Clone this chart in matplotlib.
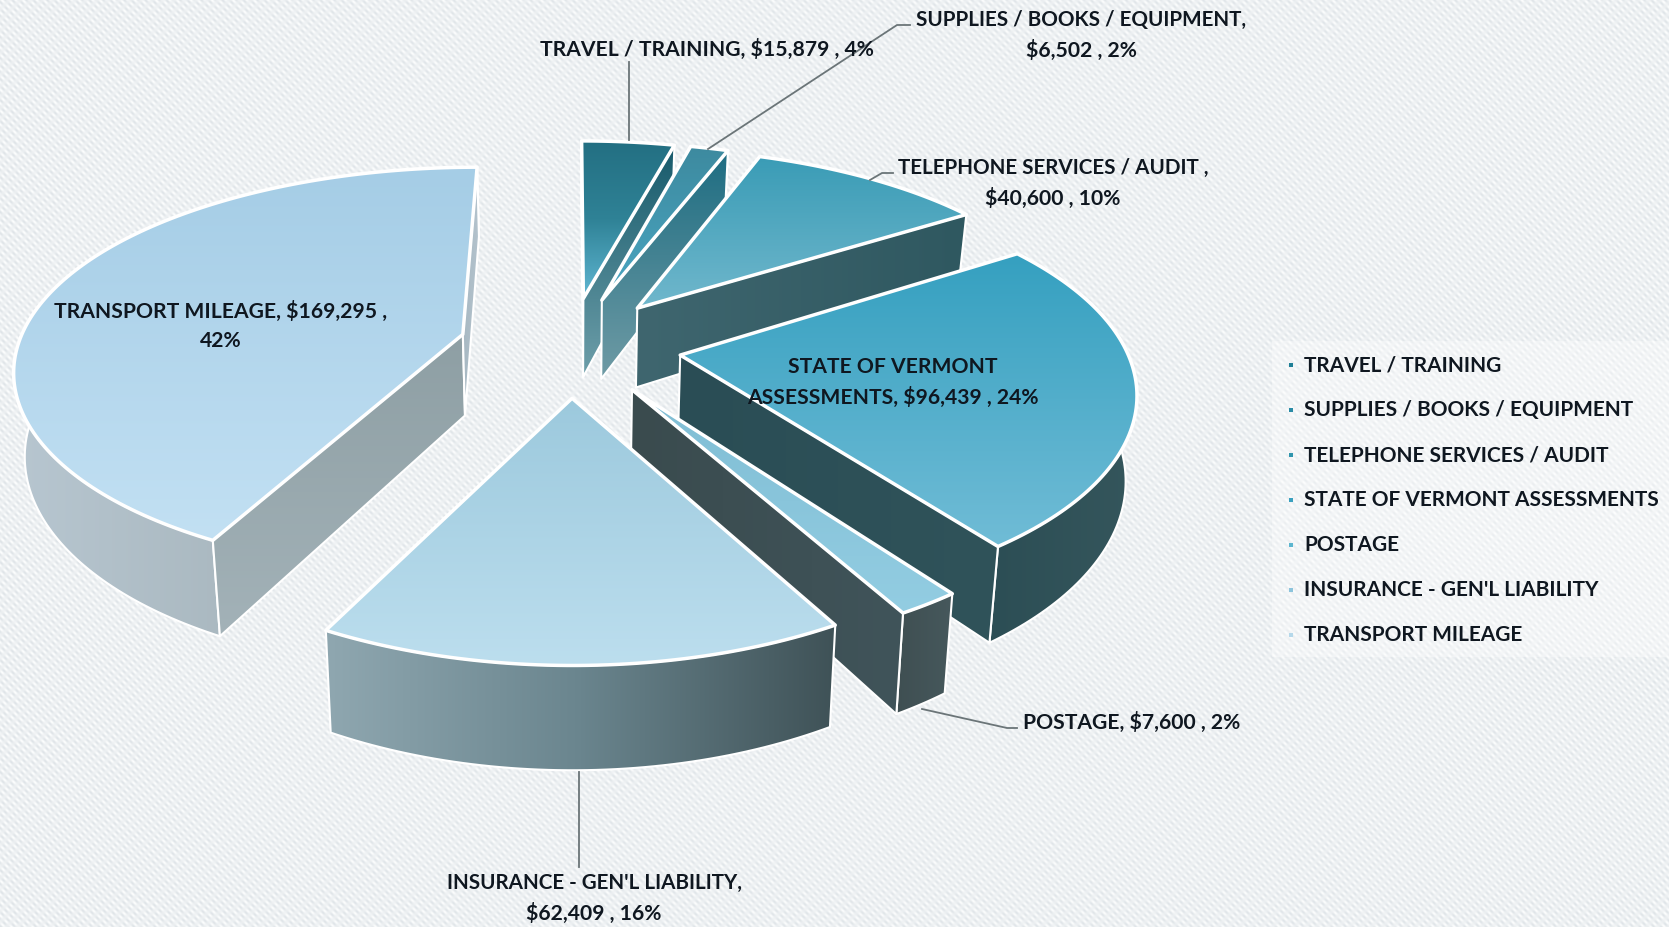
import numpy as np
import matplotlib
matplotlib.use("Agg")
import matplotlib.pyplot as plt
from matplotlib.patches import Polygon, Rectangle
from matplotlib.colors import LinearSegmentedColormap

# ---- data ----
categories = ["TRAVEL / TRAINING", "SUPPLIES / BOOKS / EQUIPMENT", "TELEPHONE SERVICES / AUDIT",
              "STATE OF VERMONT ASSESSMENTS", "POSTAGE", "INSURANCE - GEN'L LIABILITY", "TRANSPORT MILEAGE"]
values = [15879, 6502, 40600, 96439, 7600, 62409, 169295]
percents = [4, 2, 10, 24, 2, 16, 42]

# ---- styles ----
top_cols = [["#236f82", "#2f8296", "#5fb6d2"], ["#3d8a9f", "#4aa6c2"], ["#3a9cb6", "#70b7cc"],
            ["#35a0c0", "#70bcd6"], ["#7fbdd4", "#93cde2"], ["#9cc9dd", "#bcdeee"], ["#a5cde6", "#c2e0f3"]]
wall_a0 = [["#1f6070", "#1f6070"], ["#2a7488", "#2a7488"], ["#3a6068", "#3a6068"], ["#2e5058", "#2e5058"],
           ["#3c4f52", "#3c4f52"], ["#6d8f99", "#6d8f99"], ["#8e9fa4", "#a3b2b8"]]
wall_a1 = [["#175a6b", "#6e9faa"], ["#1e6d82", "#6f9ba5"], ["#3f666f", "#2f5860"], ["#2a4d55", "#30535a"],
           ["#3a4b4e", "#40545a"], ["#6d8f99", "#6d8f99"], ["#a7b8c2", "#b5c4ce"]]
wall_arc = [["#1f6070", "#1f6070"], ["#2a7488", "#2a7488"], ["#3a6068", "#3a6068"], ["#2c4e55", "#35565c"],
            ["#3f4f52", "#46585c"], ["#8fa7b0", "#6a858e", "#3f5257"], ["#b7c6d0", "#9ba9ae"]]
legend_cols = ["#1f7f96", "#2a8ba6", "#2f95ad", "#3aa0bf", "#5cb6cf", "#8cc4dc", "#b5d8ea"]
draw_order = [6, 0, 1, 2, 3, 4, 5]

W, H = 1669, 927
fig = plt.figure(figsize=(W / 100, H / 100), dpi=100)
ax = fig.add_axes([0, 0, 1, 1])
ax.set_xlim(0, W); ax.set_ylim(H, 0); ax.axis("off"); ax.set_autoscale_on(False)

# background texture
yy, xx = np.mgrid[0:H, 0:W]
tex = 0.5 + 0.5 * np.sin((xx - yy) * 2 * np.pi / 7.0) * (0.6 + 0.4 * np.sin((xx + yy) * 2 * np.pi / 11.0))
bg = np.stack([0.875 + 0.115 * tex, 0.895 + 0.10 * tex, 0.91 + 0.085 * tex], axis=-1)
ax.imshow(bg, extent=(0, W, H, 0), aspect="auto", zorder=0, interpolation="bilinear")

# perspective projection of the pie plane
CX, CY, A, B, G, GX, DEPTH, SQUEEZE, EXPLODE = 570, 346, 445, 200, 0.174, 0.155, 82, 0.98, 0.25

def project(px, py, bottom=False):
    w = 1 + G * py
    sx = CX + A * px / (1 + GX * py)
    sy = CY - B * py / w
    if bottom:
        sx = CX + (sx - CX) * SQUEEZE
        sy = sy + DEPTH / w
    return np.column_stack([sx, sy])

z = [10]
def grad_fill(poly, cols, angle=90, edge="white", lw=2.0):
    z[0] += 2
    x0, y0 = poly.min(axis=0); x1, y1 = poly.max(axis=0)
    n = 128
    gx, gy = np.meshgrid(np.linspace(x0, x1, n), np.linspace(y0, y1, n))
    t = np.cos(np.radians(angle)) * gx + np.sin(np.radians(angle)) * gy
    p = np.cos(np.radians(angle)) * poly[:, 0] + np.sin(np.radians(angle)) * poly[:, 1]
    t = (t - p.min()) / max(p.max() - p.min(), 1e-6)
    cmap = LinearSegmentedColormap.from_list("g", cols)
    ax.add_patch(Polygon(poly, closed=True, fc="none", ec=edge, lw=lw, zorder=z[0] + 1, joinstyle="round"))
    im = ax.imshow(t, extent=(x0, x1, y1, y0), cmap=cmap, vmin=0, vmax=1, aspect="auto",
                   zorder=z[0], interpolation="bilinear")
    im.set_clip_path(Polygon(poly, closed=True, transform=ax.transData))

def cross(a, b):
    return a[0] * b[1] - a[1] * b[0]

fractions = np.array(values) / np.sum(values)
edges = np.concatenate([[0], np.cumsum(fractions)]) * 2 * np.pi

for i in draw_order:
    a0, a1 = edges[i], edges[i + 1]
    mid = (a0 + a1) / 2
    ox, oy = EXPLODE * np.sin(mid), EXPLODE * np.cos(mid)
    th = np.linspace(a0, a1, max(8, int(np.degrees(a1 - a0))))
    rx, ry = ox + np.sin(th), oy + np.cos(th)
    T_rim = project(rx, ry); B_rim = project(rx, ry, True)
    T_apex = project(np.array([ox]), np.array([oy])); B_apex = project(np.array([ox]), np.array([oy]), True)
    inner = T_rim[len(T_rim) // 2] - T_apex[0]
    shift = B_apex[0] - T_apex[0]
    # outer wall first, then the radial walls that face the viewer
    grad_fill(np.vstack([T_rim, B_rim[::-1]]), wall_arc[i], 0, lw=1.5)
    for k, cols, ang in ((0, wall_a0[i], 90), (-1, wall_a1[i], 90 if i < 2 else 0)):
        e = T_rim[k] - T_apex[0]
        if cross(e, shift) * cross(e, inner) < 0:
            grad_fill(np.vstack([T_apex, T_rim[[k]], B_rim[[k]], B_apex]), cols, ang, lw=1.5)
    # top face
    grad_fill(np.vstack([T_apex, T_rim]), top_cols[i], 90, lw=2.5)

# leader lines
leaders = [([629, 629], [62, 140]), ([910, 897, 708], [25, 25, 149]), ([893, 882, 870], [173, 173, 180]),
           ([1017, 1007, 922], [728, 728, 709]), ([579, 579], [772, 867])]
for lx, ly in leaders:
    ax.plot(lx, ly, color="#6b7578", lw=1.3, zorder=200)

# data labels
TXT = "#0f1720"
font = dict(family="Lato", fontweight="bold", color=TXT, fontsize=15.2, zorder=300, ha="center", va="center")
small = dict(font, fontsize=14.9)
v = values; p = percents
ax.text(707, 49, f"TRAVEL / TRAINING, ${v[0]:,} , {p[0]}%", **font)
ax.text(1081, 20, "SUPPLIES / BOOKS / EQUIPMENT,", **small)
ax.text(1081, 50, f"${v[1]:,} , {p[1]}%", **font)
ax.text(1053, 168, "TELEPHONE SERVICES / AUDIT ,", **small)
ax.text(1053, 198, f"${v[2]:,} , {p[2]}%", **font)
ax.text(893, 367, "STATE OF VERMONT", **font)
ax.text(893, 397, f"ASSESSMENTS, ${v[3]:,} , {p[3]}%", **font)
ax.text(1132, 722, f"POSTAGE, ${v[4]:,} , {p[4]}%", **font)
ax.text(594, 883, "INSURANCE - GEN'L LIABILITY,", **small)
ax.text(594, 913, f"${v[5]:,} , {p[5]}%", **font)
ax.text(221, 311, f"TRANSPORT MILEAGE, ${v[6]:,} ,", **font)
ax.text(221, 341, f"{p[6]}%", **font)

# legend
ax.add_patch(Rectangle((1272, 341), W - 1272, 316, fc="white", ec="none", alpha=0.35, zorder=5))
leg_y = [365, 410, 455, 500, 545, 590, 635]
for name, col, y in zip(categories, legend_cols, leg_y):
    ax.add_patch(Rectangle((1289, y - 2), 4, 4, fc=col, ec="none", zorder=300))
    ax.text(1304, y, name, family="Lato", fontweight="bold", color=TXT, fontsize=15, va="center", ha="left", zorder=300)

fig.savefig("out.png", dpi=100)
